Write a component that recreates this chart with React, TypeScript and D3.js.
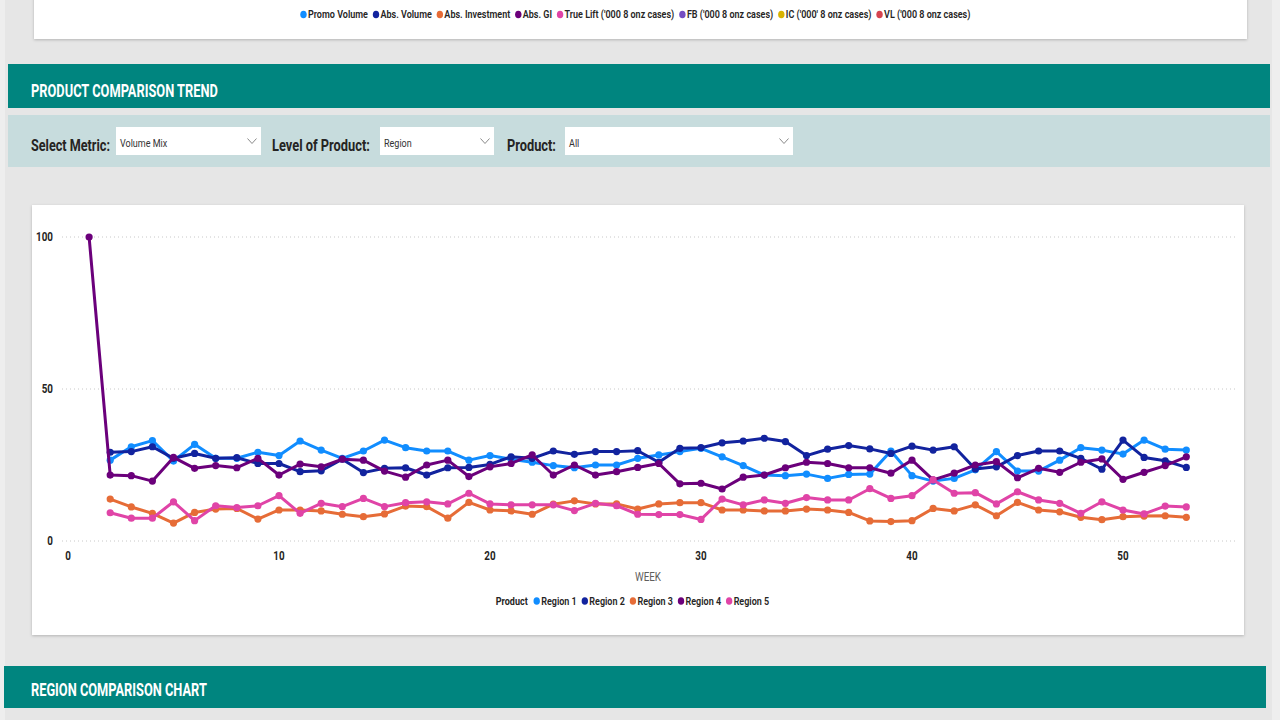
import React, { useRef, useEffect } from 'react';
import * as d3 from 'd3';

// Weekly volume mix (%) per region
const WEEKS = [
  1, 2, 3, 4, 5, 6, 7, 8, 9, 10, 11, 12, 13, 14, 15, 16, 17, 18, 19, 20, 21, 22, 23, 24, 25, 26,
  27, 28, 29, 30, 31, 32, 33, 34, 35, 36, 37, 38, 39, 40, 41, 42, 43, 44, 45, 46, 47, 48, 49, 50,
  51, 52, 53,
];

const REGION_1 = [
  null, 26.6, 31.0, 33.0, 26.3, 31.8, 27.2, 27.2, 29.2, 28.1, 32.9, 29.9, 27.2, 29.6, 33.2, 30.7,
  29.6, 29.6, 26.6, 28.1, 26.9, 25.9, 24.8, 24.1, 25.0, 25.0, 27.2, 28.3, 29.4, 30.5, 27.7, 24.8,
  21.7, 21.5, 22.0, 20.6, 21.9, 22.0, 29.6, 21.5, 19.7, 20.6, 23.4, 29.4, 23.0, 23.0, 26.6, 30.7,
  29.9, 28.6, 33.2, 30.2, 29.9,
];
const REGION_2 = [
  null, 29.2, 29.4, 31.0, 27.2, 28.8, 27.2, 27.4, 25.5, 25.5, 22.8, 23.1, 26.9, 22.5, 23.9, 24.1,
  21.7, 24.1, 24.2, 25.2, 27.7, 27.2, 29.6, 28.5, 29.4, 29.4, 29.7, 25.9, 30.5, 30.7, 32.3, 32.9,
  33.8, 32.7, 28.1, 30.2, 31.4, 30.3, 28.8, 31.2, 29.9, 31.0, 23.7, 24.4, 28.1, 29.6, 29.6, 27.2,
  23.6, 33.2, 27.5, 26.4, 24.2,
];
const REGION_3 = [
  null, 13.8, 11.2, 9.1, 5.9, 9.4, 10.5, 10.7, 7.2, 10.2, 10.2, 9.9, 8.8, 8.0, 8.9, 11.5, 11.3,
  7.5, 12.7, 10.2, 9.9, 8.8, 12.1, 13.2, 12.2, 12.2, 10.5, 12.2, 12.6, 12.6, 10.2, 10.2, 9.9, 9.9,
  10.5, 10.2, 9.4, 6.6, 6.4, 6.7, 10.7, 9.9, 11.9, 8.3, 12.7, 10.2, 9.6, 7.8, 7.0, 8.0, 8.2, 8.3,
  7.8,
];
const REGION_4 = [
  100, 21.7, 21.5, 19.7, 27.5, 23.9, 24.8, 24.1, 27.2, 21.7, 25.3, 24.4, 26.9, 26.6, 23.0, 21.0,
  25.0, 26.6, 21.2, 24.4, 25.5, 28.3, 21.7, 25.0, 21.7, 22.8, 24.2, 25.5, 18.8, 19.0, 17.1, 21.0,
  21.7, 24.1, 25.9, 25.5, 24.1, 24.1, 22.3, 26.6, 20.1, 22.3, 25.0, 26.1, 20.8, 23.9, 22.6, 25.9,
  27.0, 20.3, 22.6, 24.8, 27.7,
];
const REGION_5 = [
  null, 9.3, 7.5, 7.5, 12.9, 6.7, 11.6, 11.0, 11.6, 14.9, 9.1, 12.4, 11.3, 14.0, 11.3, 12.6, 12.9,
  12.2, 15.7, 12.2, 11.9, 11.9, 11.9, 10.0, 12.4, 11.6, 8.8, 8.7, 8.7, 7.1, 13.8, 11.9, 13.5, 12.4,
  14.3, 13.5, 13.5, 17.2, 14.0, 14.9, 20.1, 15.7, 15.9, 12.2, 16.2, 13.5, 12.4, 9.1, 12.9, 10.2,
  8.9, 11.5, 11.2,
];

const REGIONS = ['Region 1', 'Region 2', 'Region 3', 'Region 4', 'Region 5'];
const REGION_VALUES = [REGION_1, REGION_2, REGION_3, REGION_4, REGION_5];
const REGION_COLORS = ['#118dff', '#12239e', '#e66c37', '#6b007b', '#e044a7'];

const Y_TICKS = [0, 50, 100];
const X_TICKS = [0, 10, 20, 30, 40, 50];

// Legend of the visual above (only its bottom edge is visible)
const TOP_LEGEND = [
  'Promo Volume',
  'Abs. Volume',
  'Abs. Investment',
  'Abs. GI',
  "True Lift ('000 8 onz cases)",
  "FB ('000 8 onz cases)",
  "IC ('000' 8 onz cases)",
  "VL ('000 8 onz cases)",
];
const TOP_LEGEND_COLORS = [
  '#118dff', '#12239e', '#e66c37', '#6b007b', '#e044a7', '#744ec2', '#d9b300', '#d64550',
];

const FILTERS = [
  { label: 'Select Metric:', value: 'Volume Mix' },
  { label: 'Level of Product:', value: 'Region' },
  { label: 'Product:', value: 'All' },
];

const FONT = "Roboto, 'Open Sans', sans-serif";
const TEAL = '#00857f';
const INK = '#252423';
const SQUEEZE = 0.82;

type Sel = d3.Selection<any, unknown, null, undefined>;

// Narrow-font look: draw text scaled horizontally (or fitted to a width), return drawn width
function narrowText(
  parent: Sel,
  str: string,
  x: number,
  y: number,
  opts: {
    size: number;
    weight?: number;
    fill?: string;
    anchor?: 'start' | 'middle' | 'end';
    sx?: number;
    width?: number;
  }
): number {
  const t = parent
    .append('text')
    .attr('font-family', FONT)
    .attr('font-size', opts.size)
    .attr('font-weight', opts.weight ?? 400)
    .attr('fill', opts.fill ?? INK)
    .attr('dominant-baseline', 'central')
    .text(str);
  const natural = (t.node() as SVGTextElement).getComputedTextLength();
  const sx = opts.width ? opts.width / natural : opts.sx ?? SQUEEZE;
  const w = natural * sx;
  const x0 = opts.anchor === 'middle' ? x - w / 2 : opts.anchor === 'end' ? x - w : x;
  t.attr('transform', `translate(${x0},${y}) scale(${sx},1)`);
  return w;
}

// Dot + label legend, centred on cx
function dotLegend(parent: Sel, names: string[], colors: string[], cx: number, y: number, title?: string) {
  const g = parent.append('g');
  let x = 0;
  if (title) {
    x += narrowText(g, title, x, y, { size: 11, weight: 700 }) + 6;
  }
  names.forEach((name, i) => {
    g.append('ellipse').attr('cx', x + 3).attr('cy', y).attr('rx', 3.2).attr('ry', 3.8).attr('fill', colors[i]);
    x += 7.5;
    x += narrowText(g, name, x, y, { size: 11, weight: 600 }) + 5;
  });
  g.attr('transform', `translate(${cx - x / 2},0)`);
}

export default function App() {
  const ref = useRef<SVGSVGElement>(null);

  useEffect(() => {
    if (!ref.current) return;
    document.body.style.margin = '0';
    document.body.style.overflow = 'hidden';

    const svg = d3.select(ref.current);
    svg.selectAll('*').remove();

    const defs = svg.append('defs');
    const shadow = defs
      .append('filter')
      .attr('id', 'card-shadow')
      .attr('x', '-5%')
      .attr('y', '-5%')
      .attr('width', '110%')
      .attr('height', '120%');
    shadow
      .append('feDropShadow')
      .attr('dx', 0)
      .attr('dy', 1)
      .attr('stdDeviation', 1.5)
      .attr('flood-color', '#000')
      .attr('flood-opacity', 0.22);

    // Page canvas
    svg.append('rect').attr('width', 1280).attr('height', 720).attr('fill', '#eeeeee');
    svg.append('rect').attr('x', 5).attr('width', 1267).attr('height', 720).attr('fill', '#e6e6e6');

    // Bottom of the previous visual with its legend
    svg
      .append('rect')
      .attr('x', 34)
      .attr('y', -6)
      .attr('width', 1213)
      .attr('height', 45)
      .attr('fill', '#fff')
      .attr('filter', 'url(#card-shadow)');
    dotLegend(svg, TOP_LEGEND, TOP_LEGEND_COLORS, 638, 14.5);

    // Section header
    svg.append('rect').attr('x', 8).attr('y', 64).attr('width', 1262).attr('height', 44).attr('fill', TEAL);
    narrowText(svg, 'PRODUCT COMPARISON TREND', 31, 90.5, { size: 18, weight: 700, fill: '#fff', width: 187 });

    // Slicer bar
    svg.append('rect').attr('x', 8).attr('y', 115).attr('width', 1262).attr('height', 52).attr('fill', '#c7dcdd');
    const labelX = [31, 272, 507];
    const labelW = [79, 98, 49];
    const boxX = [116, 380, 565];
    const boxW = [145, 114, 228];
    FILTERS.forEach((f, i) => {
      narrowText(svg, f.label, labelX[i], 145, { size: 17, weight: 700, width: labelW[i] });
      svg.append('rect').attr('x', boxX[i]).attr('y', 127).attr('width', boxW[i]).attr('height', 28).attr('fill', '#fff');
      narrowText(svg, f.value, boxX[i] + 4, 143, { size: 11, fill: '#333' });
      const cx = boxX[i] + boxW[i] - 9;
      svg
        .append('polyline')
        .attr('points', `${cx - 4.5},${138.5} ${cx},${143.5} ${cx + 4.5},${138.5}`)
        .attr('fill', 'none')
        .attr('stroke', '#8a8a8a')
        .attr('stroke-width', 1);
    });

    // Chart card
    svg
      .append('rect')
      .attr('x', 32)
      .attr('y', 205)
      .attr('width', 1212)
      .attr('height', 430)
      .attr('fill', '#fff')
      .attr('filter', 'url(#card-shadow)');

    const x = d3.scaleLinear().domain([0, 50]).range([68, 1123]);
    const y = d3.scaleLinear().domain([0, 100]).range([541, 237]);

    const grid = svg.append('g');
    Y_TICKS.forEach((t) => {
      grid
        .append('line')
        .attr('x1', 62)
        .attr('x2', 1236)
        .attr('y1', y(t))
        .attr('y2', y(t))
        .attr('stroke', '#c8c8c8')
        .attr('stroke-width', 1)
        .attr('stroke-dasharray', '1,3');
      narrowText(grid, String(t), 53, y(t), { size: 12, weight: 700, anchor: 'end' });
    });
    X_TICKS.forEach((t) => {
      narrowText(grid, String(t), x(t), 556, { size: 12, weight: 700, anchor: 'middle' });
    });
    narrowText(svg, 'WEEK', 648, 577, { size: 12, fill: '#605e5c', anchor: 'middle' });

    // Series
    const line = d3
      .line<number | null>()
      .defined((d) => d != null)
      .x((_, i) => x(WEEKS[i]))
      .y((d) => y(d as number));

    REGION_VALUES.forEach((vals, s) => {
      const g = svg.append('g');
      g.append('path')
        .attr('d', line(vals))
        .attr('fill', 'none')
        .attr('stroke', REGION_COLORS[s])
        .attr('stroke-width', 3)
        .attr('stroke-linejoin', 'round')
        .attr('stroke-linecap', 'round');
      vals.forEach((v, i) => {
        if (v == null) return;
        g.append('circle').attr('cx', x(WEEKS[i])).attr('cy', y(v)).attr('r', 3.6).attr('fill', REGION_COLORS[s]);
      });
    });

    dotLegend(svg, REGIONS, REGION_COLORS, 635, 601, 'Product');

    // Next section header
    svg.append('rect').attr('x', 4).attr('y', 666).attr('width', 1262).attr('height', 42).attr('fill', TEAL);
    narrowText(svg, 'REGION COMPARISON CHART', 31, 690.5, { size: 18, weight: 700, fill: '#fff', width: 176 });
  }, []);

  return (
    <svg
      ref={ref}
      width={1280}
      height={720}
      style={{ position: 'absolute', left: 0, top: 0, display: 'block' }}
    />
  );
}
